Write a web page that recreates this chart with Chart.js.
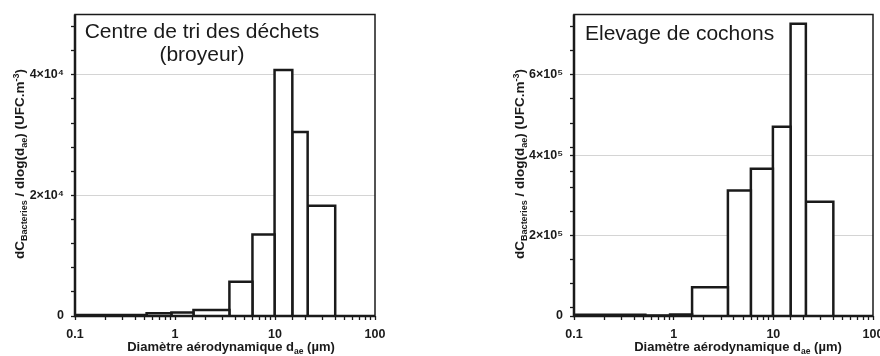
<!DOCTYPE html>
<html lang="fr">
<head>
    <meta charset="UTF-8">
    <title>Distribution granulométrique des bactéries</title>
    <script src="https://cdn.jsdelivr.net/npm/chart.js@4"></script>
    <style>
        html, body {
            margin: 0;
            padding: 0;
            background: #fff;
            overflow: hidden;
        }
        .panel {
            position: absolute;
            top: 0;
            height: 356px;
        }
        #left { left: 0; width: 440px; }
        /* plus large que la fenêtre : le "100" de droite est coupé comme sur l'original */
        #right { left: 440px; width: 460px; }
    </style>
</head>
<body>
    <div class="panel" id="left"><canvas id="chartTri"></canvas></div>
    <div class="panel" id="right"><canvas id="chartCochons"></canvas></div>

    <script>
        // Données
        var binEdges = [0.1, 0.52, 0.92, 1.53, 3.5, 5.95, 9.9, 14.9, 21.2, 40];
        var triValues = [150, 440, 600, 1000, 5700, 13500, 40800, 30500, 18300];
        var cochonsValues = [3000, 1000, 4000, 71500, 312000, 366000, 471000, 727000, 284000];

        var xTickLabels = ['0.1', '1', '10', '100'];
        var triYTicks = [0, 4000, 8000, 12000, 16000, 20000, 24000, 28000, 32000, 36000, 40000, 44000, 48000];
        var triYLabels = { 0: '0', 20000: '2×10⁴', 40000: '4×10⁴' };
        var cochonsYTicks = [0, 20000, 80000, 140000, 200000, 260000, 320000, 360000, 400000, 420000, 480000, 540000, 600000, 660000, 720000];
        var cochonsYLabels = { 0: '0', 200000: '2×10⁵', 400000: '4×10⁵', 600000: '6×10⁵' };

        var triTitle = ['Centre de tri des déchets', '(broyeur)'];
        var cochonsTitle = ['Elevage de cochons'];

        var xTitleParts = [{ t: 'Diamètre aérodynamique d', k: 'n' }, { t: 'ae', k: 'sub' }, { t: ' (µm)', k: 'n' }];
        var yTitleParts = [
            { t: 'dC', k: 'n' }, { t: 'Bacteries', k: 'sub' },
            { t: ' / dlog(d', k: 'n' }, { t: 'ae', k: 'sub' },
            { t: ') (UFC.m', k: 'n' }, { t: '-3', k: 'sup' }, { t: ')', k: 'n' }
        ];

        var FONT = '"Liberation Sans", Arial, sans-serif';
        var INK = '#1a1a1a';
        Chart.defaults.font.family = FONT;
        Chart.defaults.color = INK;

        function drawRich(ctx, parts, cx, y, size, small) {
            var w = 0;
            parts.forEach(function (p) {
                ctx.font = 'bold ' + (p.k === 'n' ? size : small) + 'px ' + FONT;
                p.w = ctx.measureText(p.t).width;
                w += p.w;
            });
            var x = cx - w / 2;
            ctx.textAlign = 'left';
            ctx.textBaseline = 'alphabetic';
            parts.forEach(function (p) {
                ctx.font = 'bold ' + (p.k === 'n' ? size : small) + 'px ' + FONT;
                var dy = p.k === 'sub' ? 3 : (p.k === 'sup' ? -5 : 0);
                ctx.fillText(p.t, x, y + dy);
                x += p.w;
            });
        }

        // cadre, titres et légendes d'axes
        var decor = {
            id: 'decor',
            afterDraw: function (chart, args, opts) {
                var ctx = chart.ctx, a = chart.chartArea;
                ctx.save();
                ctx.strokeStyle = INK;
                ctx.lineWidth = 1.5;
                ctx.strokeRect(a.left, a.top, a.right - a.left, a.bottom - a.top);
                ctx.lineWidth = 2.5;
                ctx.beginPath();
                ctx.moveTo(a.left, a.top);
                ctx.lineTo(a.left, a.bottom);
                ctx.lineTo(a.right, a.bottom);
                ctx.stroke();

                ctx.fillStyle = INK;
                ctx.font = '21px ' + FONT;
                ctx.textAlign = opts.titleAlign;
                ctx.textBaseline = 'alphabetic';
                opts.title.forEach(function (line, i) {
                    ctx.fillText(line, opts.titleX, opts.titleY + i * 23);
                });

                drawRich(ctx, xTitleParts, opts.xTitleX, opts.xTitleY, 13, 8.5);
                ctx.translate(opts.yTitleX, opts.yTitleY);
                ctx.rotate(-Math.PI / 2);
                drawRich(ctx, yTitleParts, 0, 0, 13.5, 9);
                ctx.restore();
            }
        };

        function barDatasets(values) {
            return values.map(function (v, i) {
                var lo = binEdges[i], hi = binEdges[i + 1];
                return {
                    data: [{ x: lo, y: 0 }, { x: lo, y: v }, { x: hi, y: v }, { x: hi, y: 0 }],
                    showLine: true,
                    borderColor: INK,
                    borderWidth: 2.5,
                    borderJoinStyle: 'miter',
                    backgroundColor: '#fff',
                    fill: 'origin',
                    pointRadius: 0,
                    tension: 0
                };
            });
        }

        function isDecade(v) {
            var l = Math.log10(v);
            return Math.abs(l - Math.round(l)) < 1e-6;
        }

        function makeChart(id, values, yMax, yTicks, yLabels, yWidth, rightPad, decorOpts) {
            return new Chart(document.getElementById(id), {
                type: 'scatter',
                data: { datasets: barDatasets(values) },
                plugins: [decor],
                options: {
                    responsive: true,
                    maintainAspectRatio: false,
                    animation: false,
                    layout: { padding: { top: 14, right: rightPad, left: 0, bottom: 0 } },
                    plugins: {
                        legend: { display: false },
                        tooltip: { enabled: false },
                        decor: decorOpts
                    },
                    scales: {
                        x: {
                            type: 'logarithmic',
                            min: 0.1,
                            max: 100,
                            border: { display: false },
                            grid: { color: 'rgba(0,0,0,0)', tickColor: INK, tickLength: 4, tickWidth: 1.3 },
                            ticks: {
                                autoSkip: false,
                                maxRotation: 0,
                                padding: 7,
                                font: { size: 12.5, weight: 'bold' },
                                callback: function (value) {
                                    if (!isDecade(value)) return '';
                                    var i = Math.round(Math.log10(value)) + 1;
                                    return xTickLabels[i];
                                }
                            },
                            afterFit: function (scale) { scale.height = 40; }
                        },
                        y: {
                            min: 0,
                            max: yMax,
                            border: { display: false },
                            afterBuildTicks: function (scale) {
                                scale.ticks = yTicks.map(function (v) { return { value: v }; });
                            },
                            grid: {
                                color: function (c) {
                                    return (c.tick && yLabels[c.tick.value] && c.tick.value > 0) ? '#d4d4d4' : 'rgba(0,0,0,0)';
                                },
                                tickColor: INK,
                                tickLength: 4,
                                tickWidth: 1.3
                            },
                            ticks: {
                                padding: 7,
                                font: { size: 12.5, weight: 'bold' },
                                callback: function (value) { return yLabels[value] || ''; }
                            },
                            afterFit: function (scale) { scale.width = yWidth; }
                        }
                    }
                }
            });
        }

        makeChart('chartTri', triValues, 50000, triYTicks, triYLabels, 75, 65, {
            title: triTitle, titleAlign: 'center', titleX: 202, titleY: 38,
            xTitleX: 231, xTitleY: 351, yTitleX: 24, yTitleY: 164
        });

        makeChart('chartCochons', cochonsValues, 750000, cochonsYTicks, cochonsYLabels, 134, 27, {
            title: cochonsTitle, titleAlign: 'left', titleX: 145, titleY: 40,
            xTitleX: 298, xTitleY: 351, yTitleX: 84, yTitleY: 164
        });
    </script>
</body>
</html>
